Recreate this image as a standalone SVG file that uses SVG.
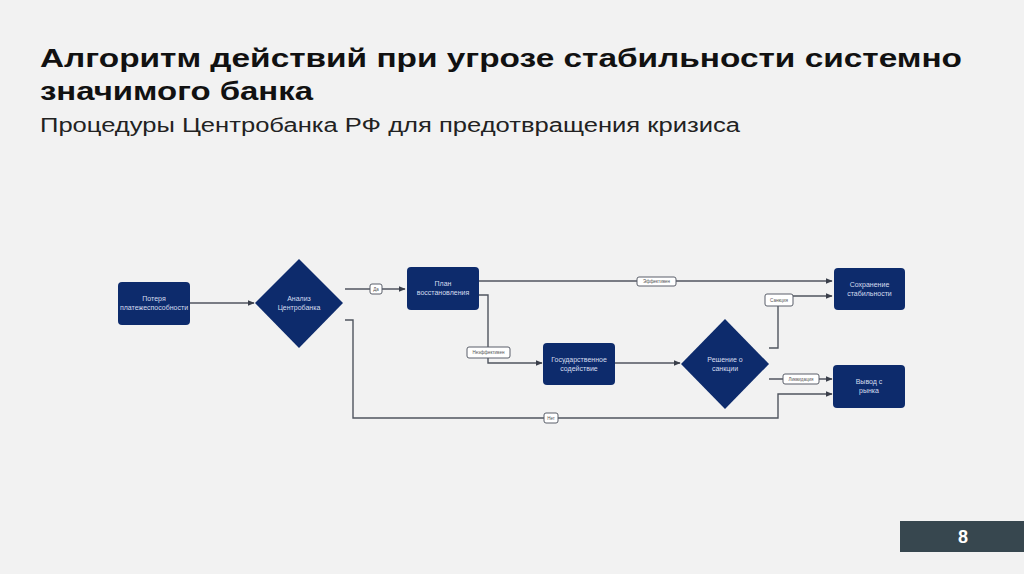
<svg xmlns="http://www.w3.org/2000/svg" width="1024" height="574" viewBox="0 0 1024 574">
<defs>
<style>
.title{font-family:"Liberation Sans Narrow","Liberation Sans",Arial,sans-serif;font-weight:bold;font-size:26px;fill:#111;}
.sub{font-family:"Liberation Sans Narrow","Liberation Sans",Arial,sans-serif;font-size:20px;fill:#222;}
.node{fill:#0d2b6c;}
.nt{font-family:"Liberation Sans",Arial,sans-serif;font-size:7px;fill:#d5ddef;text-anchor:middle;}
.conn{fill:none;stroke:#50555f;stroke-width:1.4;}
.lb{fill:#ffffff;stroke:#5a5f6a;stroke-width:1;}
.lt{font-family:"Liberation Sans",Arial,sans-serif;font-size:4.5px;fill:#555;text-anchor:middle;}
</style>
<marker id="ar" viewBox="0 0 10 10" refX="9" refY="5" markerWidth="5" markerHeight="5" orient="auto">
<path d="M0,1 L10,5 L0,9 z" fill="#3a3f4a"/>
</marker>
</defs>
<rect x="0" y="0" width="1024" height="574" fill="#f2f2f2"/>
<g id="header">
<text class="title" x="40" y="67" textLength="922" lengthAdjust="spacingAndGlyphs">Алгоритм действий при угрозе стабильности системно</text>
<text class="title" x="40" y="100" textLength="273" lengthAdjust="spacingAndGlyphs">значимого банка</text>
<text class="sub" x="40" y="132" textLength="700" lengthAdjust="spacingAndGlyphs">Процедуры Центробанка РФ для предотвращения кризиса</text>
</g>
<g id="connectors">
<path class="conn" d="M190,303 L254,303" marker-end="url(#ar)"/>
<path class="conn" d="M345,289 L405,289" marker-end="url(#ar)"/>
<path class="conn" d="M345,320 L353,320 L353,418 L778,418 L778,394 L832,394" marker-end="url(#ar)"/>
<path class="conn" d="M478,281 L832,281" marker-end="url(#ar)"/>
<path class="conn" d="M478,295 L488,295 L488,363 L542,363" marker-end="url(#ar)"/>
<path class="conn" d="M615,363 L680,363" marker-end="url(#ar)"/>
<path class="conn" d="M769,348 L778,348 L778,296 L832,296" marker-end="url(#ar)"/>
<path class="conn" d="M769,379 L832,379" marker-end="url(#ar)"/>
<rect class="lb" x="370" y="284" width="12" height="10" rx="2"/>
<text class="lt" x="376" y="290.5">Да</text>
<rect class="lb" x="637" y="277" width="39" height="9" rx="2"/>
<text class="lt" x="656.5" y="283">Эффективен</text>
<rect class="lb" x="467" y="347" width="43" height="11" rx="2"/>
<text class="lt" x="488.5" y="354">Неэффективен</text>
<rect class="lb" x="765" y="294" width="28" height="12" rx="2"/>
<text class="lt" x="779" y="301.5">Санкция</text>
<rect class="lb" x="783" y="374" width="36" height="10" rx="2"/>
<text class="lt" x="801" y="380.5">Ликвидация</text>
<rect class="lb" x="544" y="413" width="14" height="10" rx="2"/>
<text class="lt" x="551" y="419.5">Нет</text>
</g>
<g id="n-poterya">
<rect class="node" x="118" y="282" width="72" height="43" rx="4"/>
<text class="nt" x="154" y="301">Потеря</text>
<text class="nt" x="154" y="310">платежеспособности</text>
</g>
<g id="n-analiz">
<polygon class="node" points="299,259 343,303 299,348 255,303"/>
<text class="nt" x="299" y="301">Анализ</text>
<text class="nt" x="299" y="310">Центробанка</text>
</g>
<g id="n-plan">
<rect class="node" x="407" y="267" width="72" height="43" rx="4"/>
<text class="nt" x="443" y="286">План</text>
<text class="nt" x="443" y="295">восстановления</text>
</g>
<g id="n-gos">
<rect class="node" x="543" y="343" width="72" height="42" rx="4"/>
<text class="nt" x="579" y="362">Государственное</text>
<text class="nt" x="579" y="371">содействие</text>
</g>
<g id="n-reshenie">
<polygon class="node" points="725,319 769,364 725,409 681,364"/>
<text class="nt" x="725" y="362">Решение о</text>
<text class="nt" x="725" y="371">санкции</text>
</g>
<g id="n-sohr">
<rect class="node" x="834" y="268" width="71" height="42" rx="4"/>
<text class="nt" x="869.5" y="287">Сохранение</text>
<text class="nt" x="869.5" y="296">стабильности</text>
</g>
<g id="n-vyvod">
<rect class="node" x="833" y="365" width="72" height="43" rx="4"/>
<text class="nt" x="869" y="384">Вывод с</text>
<text class="nt" x="869" y="393">рынка</text>
</g>
<g id="page">
<rect x="900" y="521" width="124" height="31" fill="#37474f"/>
<text x="963" y="543" font-family="Liberation Sans,Arial,sans-serif" font-weight="bold" font-size="18" fill="#ffffff" text-anchor="middle">8</text>
</g>
</svg>
